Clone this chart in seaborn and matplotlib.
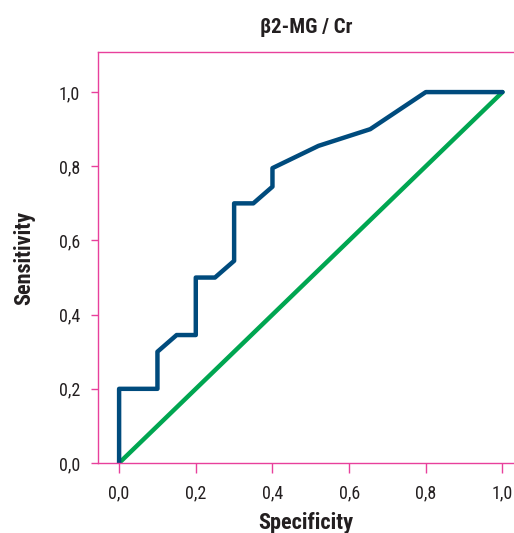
import matplotlib
matplotlib.use("Agg")
import matplotlib.pyplot as plt
from matplotlib.ticker import FuncFormatter
import seaborn as sns
import pandas as pd

# ROC curve
spec = [0.0, 0.0, 0.10, 0.10, 0.15, 0.20, 0.20, 0.25, 0.30, 0.30, 0.35, 0.40, 0.40, 0.52, 0.655, 0.80, 1.0]
sens = [0.0, 0.20, 0.20, 0.30, 0.345, 0.345, 0.50, 0.50, 0.545, 0.70, 0.70, 0.745, 0.795, 0.855, 0.90, 1.0, 1.0]
ref_x = [0.0, 1.0]
ref_y = [0.0, 1.0]
ticks = [0.0, 0.2, 0.4, 0.6, 0.8, 1.0]

sns.set_style("white")
plt.rcParams['font.family'] = ['Roboto Condensed', 'Liberation Sans', 'DejaVu Sans']

pink = '#e8409c'
blue = '#004b7d'
green = '#00a651'
dark = '#231f20'

fig = plt.figure(figsize=(5.14, 5.33), dpi=100)
ax = fig.add_axes([0.1907, 0.1313, 0.8093, 0.7711])

roc = pd.DataFrame({'x': spec, 'y': sens})
diag = pd.DataFrame({'x': ref_x, 'y': ref_y})
sns.lineplot(data=diag, x='x', y='y', ax=ax, color=green, linewidth=3.2, sort=False, estimator=None)
sns.lineplot(data=roc, x='x', y='y', ax=ax, color=blue, linewidth=3.2, sort=False, estimator=None)

ax.set_xlim(-0.055, 1.03)
ax.set_ylim(0, 1.108)
ax.set_xticks(ticks)
ax.set_yticks(ticks)
fmt = FuncFormatter(lambda v, p: ('%.1f' % v).replace('.', ','))
ax.xaxis.set_major_formatter(fmt)
ax.yaxis.set_major_formatter(fmt)

for s in ['left', 'top', 'bottom']:
    ax.spines[s].set_color(pink)
    ax.spines[s].set_linewidth(1.0)
ax.spines['right'].set_visible(False)

ax.tick_params(axis='x', direction='out', length=7.5, width=1, color=pink,
               labelsize=13, labelcolor=dark, pad=8, bottom=True)
ax.tick_params(axis='y', direction='out', length=5, width=1, color=pink,
               labelsize=13, labelcolor=dark, pad=8, left=True)

ax.set_xlabel('Specificity', fontsize=16, fontweight='bold', color=dark, labelpad=7)
ax.set_ylabel('Sensitivity', fontsize=16, fontweight='bold', color=dark, labelpad=17)
ax.set_title('β2-MG / Cr', fontsize=15, fontweight='bold', color=dark, pad=14)

fig.savefig('out.png', dpi=100)
